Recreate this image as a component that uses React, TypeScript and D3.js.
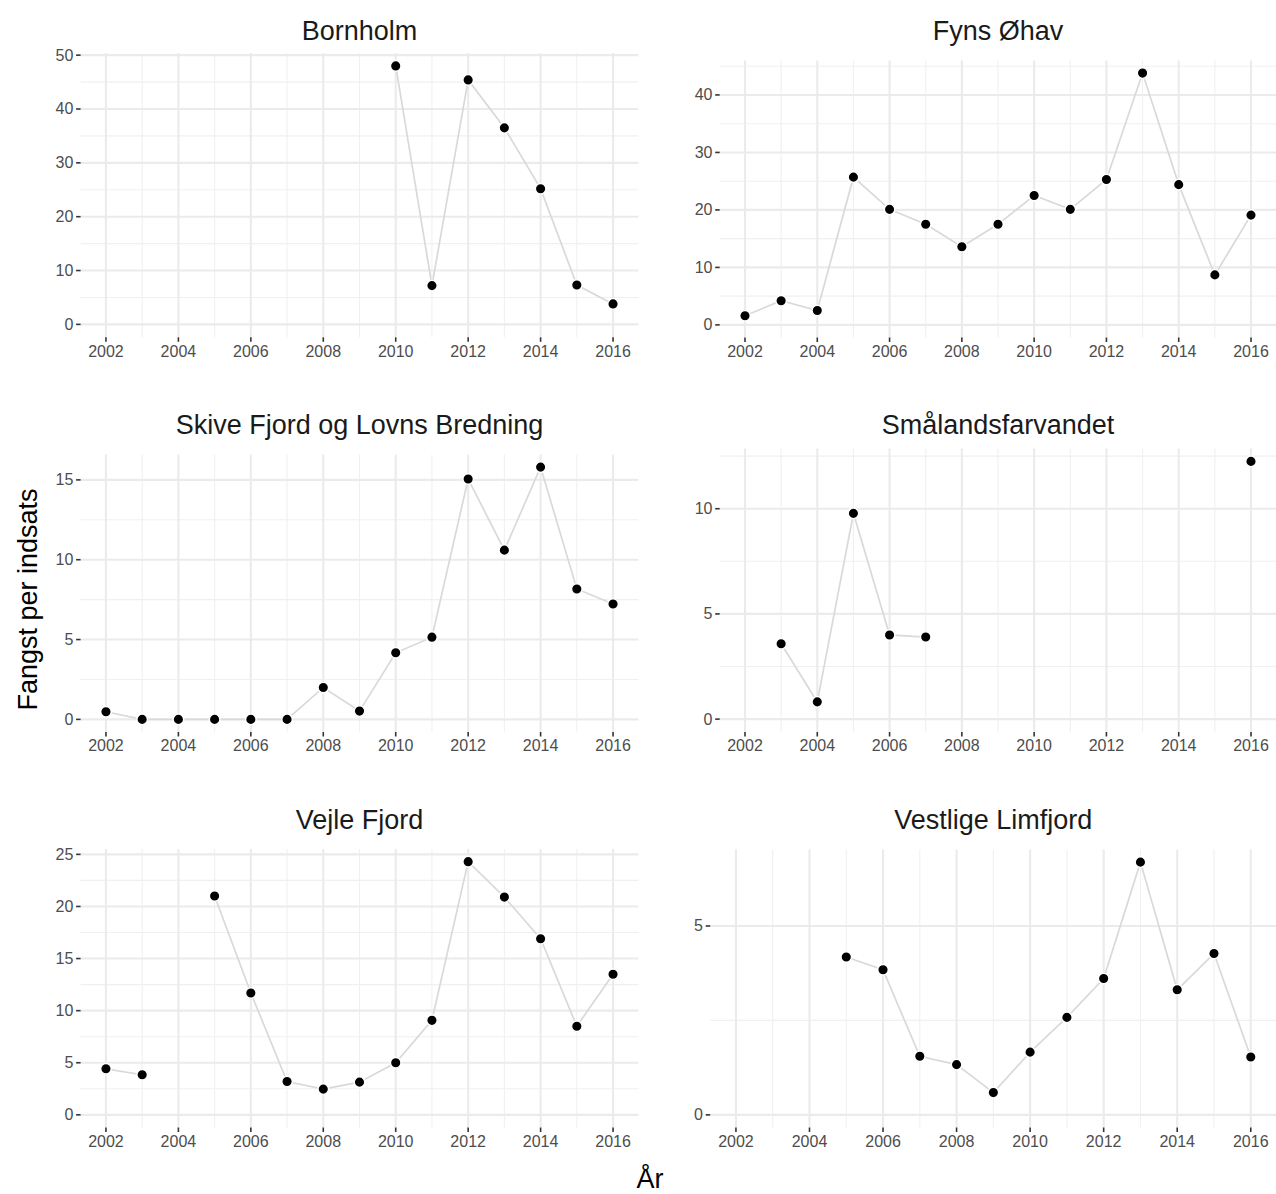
import React from "react";
import * as d3 from "d3";

// ---------- data ----------
const years = [2002, 2003, 2004, 2005, 2006, 2007, 2008, 2009, 2010, 2011, 2012, 2013, 2014, 2015, 2016];
const xTickYears = [2002, 2004, 2006, 2008, 2010, 2012, 2014, 2016];
const xMinorYears = [2003, 2005, 2007, 2009, 2011, 2013, 2015];

const bornholm = [null, null, null, null, null, null, null, null, 48.0, 7.2, 45.4, 36.5, 25.2, 7.3, 3.8];
const fynsOhav = [1.6, 4.2, 2.5, 25.7, 20.1, 17.5, 13.6, 17.5, 22.5, 20.1, 25.3, 43.8, 24.4, 8.7, 19.1];
const skiveFjord = [0.48, 0, 0, 0, 0, 0, 2.0, 0.52, 4.17, 5.15, 15.06, 10.6, 15.8, 8.17, 7.23];
const smaalandsfarvandet = [null, 3.58, 0.82, 9.78, 4.0, 3.9, null, null, null, null, null, null, null, null, 12.25];
const vejleFjord = [4.42, 3.85, null, 21.0, 11.7, 3.2, 2.47, 3.14, 5.0, 9.07, 24.3, 20.9, 16.9, 8.5, 13.5];
const vestligeLimfjord = [null, null, null, 4.18, 3.84, 1.55, 1.33, 0.59, 1.66, 2.58, 3.61, 6.69, 3.31, 4.27, 1.53];

const bornholmTicks = [0, 10, 20, 30, 40, 50];
const fynsTicks = [0, 10, 20, 30, 40];
const skiveTicks = [0, 5, 10, 15];
const smaalandTicks = [0, 5, 10];
const vejleTicks = [0, 5, 10, 15, 20, 25];
const vestligeTicks = [0, 5];

const panelTitles = [
  "Bornholm",
  "Fyns Øhav",
  "Skive Fjord og Lovns Bredning",
  "Smålandsfarvandet",
  "Vejle Fjord",
  "Vestlige Limfjord",
];
const panelValues = [bornholm, fynsOhav, skiveFjord, smaalandsfarvandet, vejleFjord, vestligeLimfjord];
const panelTicks = [bornholmTicks, fynsTicks, skiveTicks, smaalandTicks, vejleTicks, vestligeTicks];

const yAxisTitle = "Fangst per indsats";
const xAxisTitle = "År";

// ---------- layout ----------
const W = 1276;
const H = 1194;
const FONT = "'Liberation Sans', Arial, Helvetica, sans-serif";

const layout = [
  { left: 80.6, right: 638.4, top: 53, bottom: 337.3, titleY: 39.6 },
  { left: 719.7, right: 1276.3, top: 60.5, bottom: 337.5, titleY: 39.6 },
  { left: 80.6, right: 638.4, top: 454.5, bottom: 732, titleY: 433.5 },
  { left: 719.7, right: 1276.3, top: 448.5, bottom: 732, titleY: 433.5 },
  { left: 80.6, right: 638.4, top: 849, bottom: 1127.5, titleY: 828.6 },
  { left: 710.2, right: 1276.5, top: 849.5, bottom: 1127.5, titleY: 828.6 },
];

function Panel({ idx }: { idx: number }) {
  const L = layout[idx];
  const values = panelValues[idx];
  const ticks = panelTicks[idx];
  const data = years.map((y, i) => ({ year: y, value: values[i] }));

  const xExt = d3.extent(years) as [number, number];
  const xPad = (xExt[1] - xExt[0]) * 0.05;
  const x = d3.scaleLinear().domain([xExt[0] - xPad, xExt[1] + xPad]).range([L.left, L.right]);

  const vals = values.filter((v) => v != null) as number[];
  const yMin = Math.min(0, d3.min(vals) as number);
  const yMax = d3.max(vals) as number;
  const yPad = (yMax - yMin) * 0.05;
  const y = d3.scaleLinear().domain([yMin - yPad, yMax + yPad]).range([L.bottom, L.top]);
  const [d0, d1] = y.domain();

  const step = ticks[1] - ticks[0];
  const minor: number[] = [];
  for (let t = ticks[0] - step / 2; t <= ticks[ticks.length - 1] + step; t += step) {
    if (t >= d0 && t <= d1) minor.push(t);
  }

  const line = d3
    .line<{ year: number; value: number | null }>()
    .defined((d) => d.value != null)
    .x((d) => x(d.year))
    .y((d) => y(d.value as number));

  const cx = (L.left + L.right) / 2;

  return (
    <g>
      {/* minor grid */}
      {minor.map((t) => (
        <line key={"hm" + t} x1={L.left} x2={L.right} y1={y(t)} y2={y(t)} stroke="#f0f0f0" strokeWidth={1.1} />
      ))}
      {xMinorYears.map((t) => (
        <line key={"vm" + t} x1={x(t)} x2={x(t)} y1={L.top} y2={L.bottom} stroke="#f0f0f0" strokeWidth={1.1} />
      ))}
      {/* major grid */}
      {ticks.map((t) => (
        <line key={"hM" + t} x1={L.left} x2={L.right} y1={y(t)} y2={y(t)} stroke="#ebebeb" strokeWidth={2.1} />
      ))}
      {xTickYears.map((t) => (
        <line key={"vM" + t} x1={x(t)} x2={x(t)} y1={L.top} y2={L.bottom} stroke="#ebebeb" strokeWidth={2.1} />
      ))}
      {/* y axis */}
      {ticks.map((t) => (
        <g key={"yt" + t}>
          <line x1={L.left - 4.5} x2={L.left} y1={y(t)} y2={y(t)} stroke="#333333" strokeWidth={1.6} />
          <text
            x={L.left - 7.2}
            y={y(t)}
            textAnchor="end"
            dominantBaseline="central"
            fontSize={16}
            fill="#4d4d4d"
            fontFamily={FONT}
          >
            {t}
          </text>
        </g>
      ))}
      {/* x axis */}
      {xTickYears.map((t) => (
        <g key={"xt" + t}>
          <line x1={x(t)} x2={x(t)} y1={L.bottom} y2={L.bottom + 4.5} stroke="#333333" strokeWidth={1.6} />
          <text
            x={x(t)}
            y={L.bottom + 8}
            textAnchor="middle"
            dominantBaseline="hanging"
            fontSize={16}
            fill="#4d4d4d"
            fontFamily={FONT}
          >
            {t}
          </text>
        </g>
      ))}
      {/* line */}
      <path d={line(data) || ""} fill="none" stroke="#d9d9d9" strokeWidth={1.7} />
      {/* points */}
      {data
        .filter((d) => d.value != null)
        .map((d) => (
          <circle
            key={"p" + d.year}
            cx={x(d.year)}
            cy={y(d.value as number)}
            r={5.3}
            fill="#000000"
            stroke="#ffffff"
            strokeWidth={1.5}
          />
        ))}
      {/* title */}
      <text x={cx} y={L.titleY} textAnchor="middle" fontSize={27} fill="#1a1a1a" fontFamily={FONT}>
        {panelTitles[idx]}
      </text>
    </g>
  );
}

export default function App() {
  return (
    <svg width={W} height={H} style={{ display: "block", position: "absolute", left: 0, top: 0, background: "#ffffff" }}>
      <rect x={0} y={0} width={W} height={H} fill="#ffffff" />
      {panelTitles.map((_, i) => (
        <Panel key={i} idx={i} />
      ))}
      <text
        transform={`translate(27.5, 599.5) rotate(-90)`}
        textAnchor="middle"
        dominantBaseline="central"
        fontSize={27}
        fill="#000000"
        fontFamily={FONT}
      >
        {yAxisTitle}
      </text>
      <text x={650} y={1188} textAnchor="middle" fontSize={27} fill="#000000" fontFamily={FONT}>
        {xAxisTitle}
      </text>
    </svg>
  );
}
